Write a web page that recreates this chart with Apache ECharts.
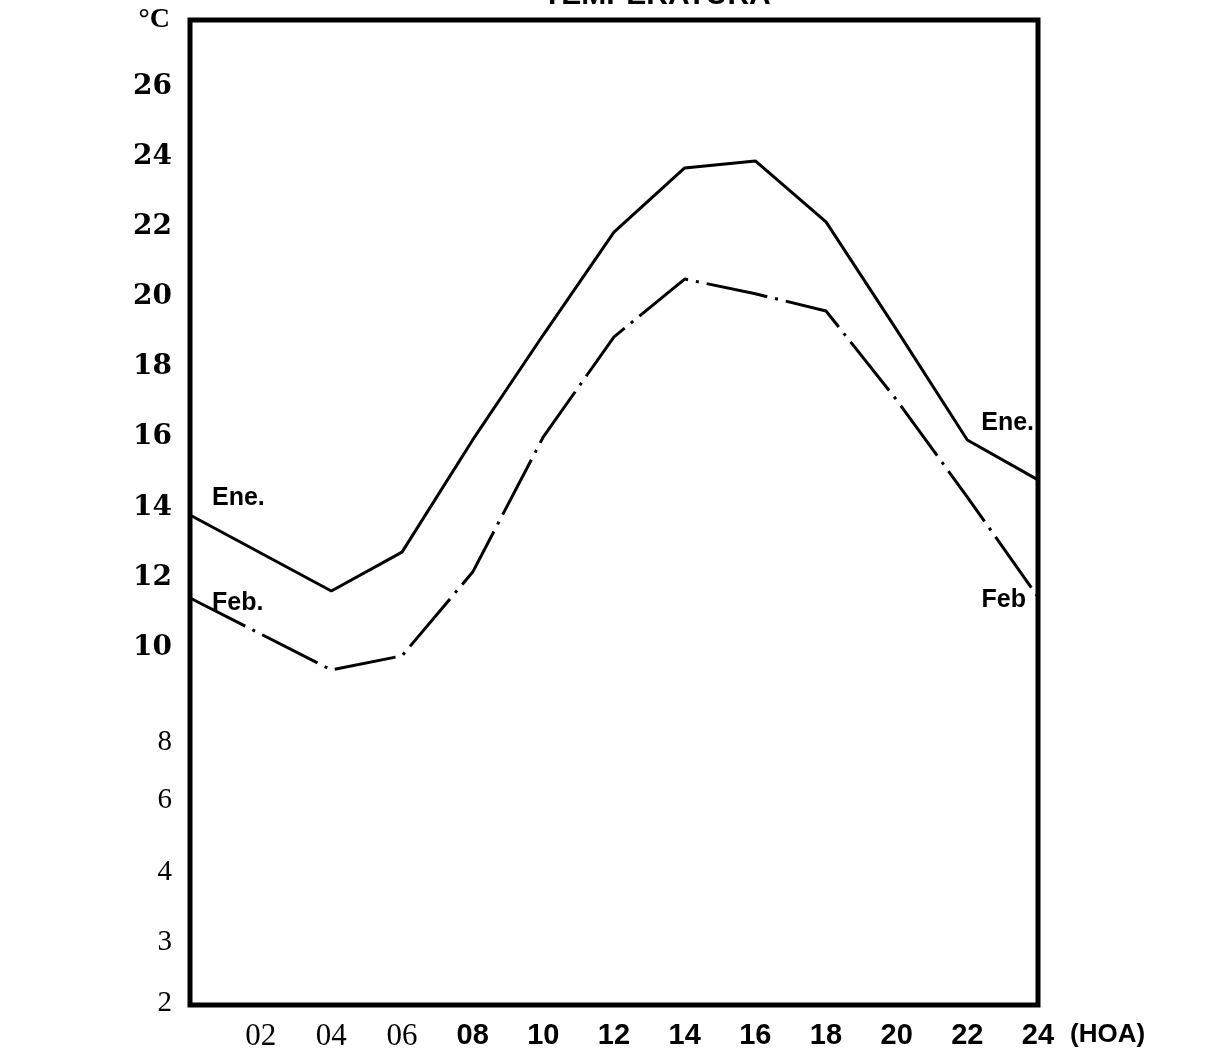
<!DOCTYPE html>
<html><head><meta charset="utf-8">
<script src="https://cdn.jsdelivr.net/npm/echarts@6/dist/echarts.min.js"></script>
<style>html,body{margin:0;padding:0;background:#fff}#chart{width:1226px;height:1057px}</style>
</head><body><div id="chart"></div>
<script>
// Hours of the day (HOA) at which the curves have vertices
const hours = [0, 4, 6, 8, 10, 12, 14, 16, 18, 20, 22, 24];
// Temperature (°C), January ("Ene.") and February ("Feb.")
const eneTemp = [13.78, 11.61, 12.72, 15.92, 18.92, 21.85, 23.68, 23.88, 22.14, 19.06, 15.92, 14.78];
const febTemp = [11.41, 9.36, 9.76, 12.15, 16.01, 18.86, 20.51, 20.09, 19.60, 17.06, 14.29, 11.44];
// X tick labels
const xTicks = [2, 4, 6, 8, 10, 12, 14, 16, 18, 20, 22, 24];
const xTickLabels = ['02', '04', '06', '08', '10', '12', '14', '16', '18', '20', '22', '24'];
// Y tick labels (as printed on the original scale) and their positions on it
const yTickLabels = ['2', '3', '4', '6', '8', '10', '12', '14', '16', '18', '20', '22', '24', '26'];
const yTickPos = [-0.14, 1.60, 3.57, 5.65, 7.30, 10, 12, 14, 16, 18, 20, 22, 24, 26];

const seriesNames = ['Ene.', 'Feb.'];

function nearestIndex(arr, v) {
  let best = 0, d = Infinity;
  arr.forEach((a, i) => { const dd = Math.abs(a - v); if (dd < d) { d = dd; best = i; } });
  return best;
}

const lblFont = { fontFamily: 'Liberation Sans', fontWeight: 'bold', fontSize: 25, color: '#000' };

function buildData(vals, firstLabel, lastLabel) {
  return hours.map((h, i) => {
    const item = { value: [h, vals[i]] };
    if (i === 0) item.label = Object.assign({ show: true, formatter: firstLabel.text, position: 'right', distance: 0, offset: firstLabel.offset }, lblFont);
    if (i === hours.length - 1) item.label = Object.assign({ show: true, formatter: lastLabel.text, position: 'left', distance: 0, offset: lastLabel.offset }, lblFont);
    return item;
  });
}

const chart = echarts.init(document.getElementById('chart'), null, { renderer: 'canvas' });
chart.setOption({
  animation: false,
  backgroundColor: '#ffffff',
  title: {
    text: 'TEMPERATURA',
    left: 538, top: -24,
    textStyle: { fontFamily: 'Liberation Sans', fontWeight: 'bold', fontSize: 30, color: '#000' }
  },
  grid: {
    left: 190, right: 188, top: 20, bottom: 52,
    show: true, borderWidth: 5, borderColor: '#000', backgroundColor: 'transparent'
  },
  xAxis: {
    type: 'value', min: 0, max: 24, interval: 2,
    name: '(HOA)', nameLocation: 'end', nameGap: 32,
    nameTextStyle: { fontFamily: 'Liberation Sans', fontWeight: 'bold', fontSize: 26, color: '#000', verticalAlign: 'top', padding: [24, 0, 0, 0] },
    axisLine: { show: false }, axisTick: { show: false }, splitLine: { show: false },
    axisLabel: {
      customValues: xTicks,
      margin: 16,
      formatter: function (v) {
        const i = nearestIndex(xTicks, v);
        return (i < 3 ? '{s|' : '{b|') + xTickLabels[i] + '}';
      },
      rich: {
        s: { fontFamily: 'Liberation Serif', fontSize: 31, color: '#000' },
        b: { fontFamily: 'Liberation Sans', fontWeight: 'bold', fontSize: 29, color: '#000' }
      }
    }
  },
  yAxis: {
    type: 'value', min: -0.2, max: 27.9,
    name: '°C', nameLocation: 'end', nameGap: 0,
    nameTextStyle: { fontFamily: 'Liberation Serif', fontWeight: 'bold', fontSize: 28, color: '#000', align: 'right', verticalAlign: 'middle', padding: [0, 20, 8, 0] },
    axisLine: { show: false }, axisTick: { show: false }, splitLine: { show: false },
    axisLabel: {
      customValues: yTickPos,
      margin: 18,
      formatter: function (v) {
        const i = nearestIndex(yTickPos, v);
        return (i < 5 ? '{s|' : '{b|') + yTickLabels[i] + '}';
      },
      rich: {
        s: { fontFamily: 'Liberation Serif', fontSize: 29, color: '#000' },
        b: { fontFamily: 'DejaVu Serif', fontWeight: 'bold', fontSize: 28, color: '#000' }
      }
    }
  },
  series: [
    {
      name: seriesNames[0], type: 'line',
      showSymbol: true, symbol: 'circle', symbolSize: 0,
      lineStyle: { color: '#000', width: 3 },
      itemStyle: { color: '#000' },
      z: 3,
      data: buildData(eneTemp, { text: 'Ene.', offset: [22, -17] }, { text: 'Ene.', offset: [-4, -57] })
    },
    {
      name: seriesNames[1], type: 'line',
      showSymbol: true, symbol: 'circle', symbolSize: 0,
      lineStyle: { color: '#000', width: 3, type: [62, 8, 3, 8] },
      itemStyle: { color: '#000' },
      z: 3,
      data: buildData(febTemp, { text: 'Feb.', offset: [22, 5] }, { text: 'Feb', offset: [-12, 3] })
    }
  ]
});
</script>
</body></html>
